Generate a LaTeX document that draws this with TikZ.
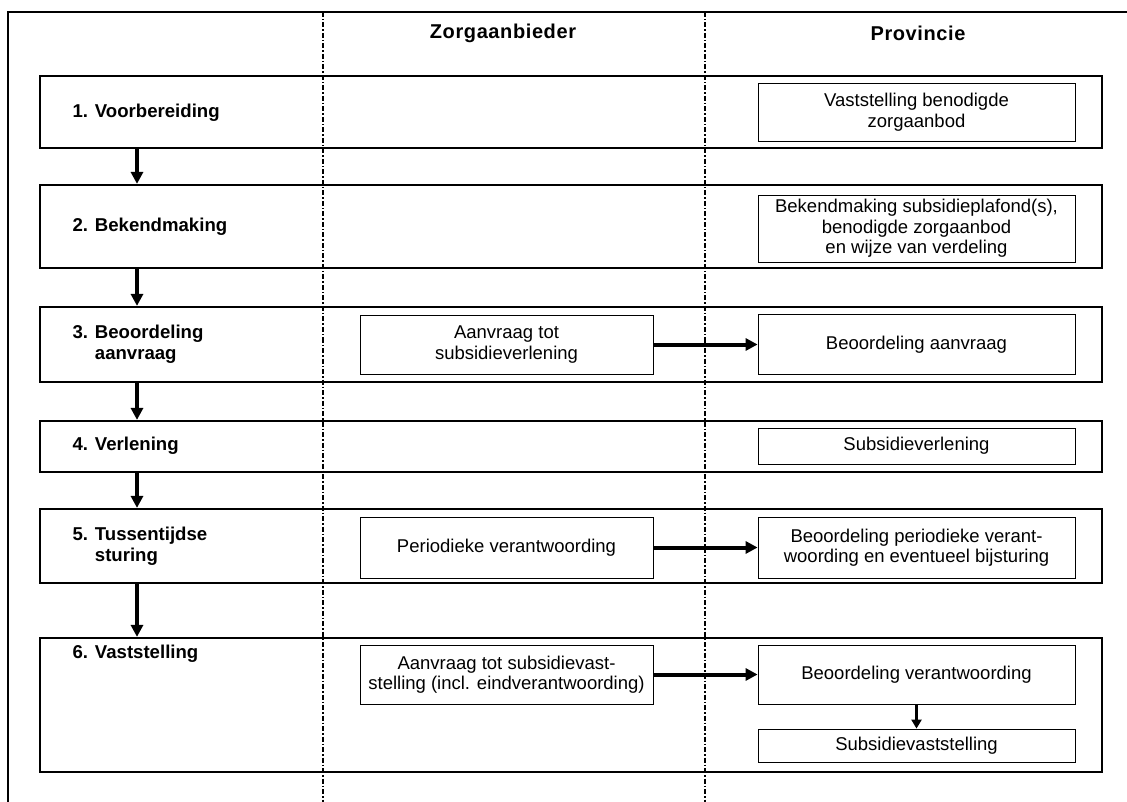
\documentclass[tikz,border=0pt]{standalone}
\usepackage{fontspec}
\setmainfont{Liberation Sans}
\usetikzlibrary{arrows.meta}

\begin{document}
\begin{tikzpicture}[x=1pt,y=-1pt,
    fase/.style={draw,line width=2.2pt,minimum width=1062pt,inner sep=0pt},
    lbl/.style={anchor=west,align=left,font=\fontsize{18.6}{21}\selectfont\bfseries},
    kop/.style={font=\fontsize{20}{22}\selectfont\bfseries\addfontfeatures{LetterSpace=3}},
    zbox/.style={draw,line width=0.8pt,minimum width=293pt,align=center,inner sep=0pt,font=\fontsize{18.5}{20.5}\selectfont},
    pbox/.style={zbox,minimum width=317pt},
    pijl/.style={line width=4pt,-{Triangle[length=12pt,width=12pt]}},
    lane/.style={line width=1.4pt,dash pattern=on 5pt off 2pt on 1.5pt off 2pt}]
\useasboundingbox (0,0) rectangle (1127,802);
% kader en banen
\draw[line width=2pt] (1127,12) -- (8,12) -- (8,802);
\draw[lane] (323,12) -- (323,802);
\draw[lane] (705,12) -- (705,802);
\node[kop] (hz) at (503,33) {Zorgaanbieder};
\node[kop] (hp) at (918,33) {Provincie};

% fasen
\node[fase,minimum height=72pt] (p1) at (571,112) {};
\node[fase,minimum height=83pt] (p2) at (571,226.5) {};
\node[fase,minimum height=75pt] (p3) at (571,344.5) {};
\node[fase,minimum height=51pt] (p4) at (571,446.5) {};
\node[fase,minimum height=74pt] (p5) at (571,546) {};
\node[fase,minimum height=134pt] (p6) at (571,705) {};
\node[lbl] (l1) at (69,113) {1. Voorbereiding};
\node[lbl] (l2) at (69,227) {2. Bekendmaking};
\node[lbl] (l3) at (69,344) {3. Beoordeling\\\phantom{3. }aanvraag};
\node[lbl] (l4) at (69,446) {4. Verlening};
\node[lbl] (l5) at (69,546) {5. Tussentijdse\\\phantom{5. }sturing};
\node[lbl] (l6) at (69,654) {6. Vaststelling};
\coordinate (ax) at (137,0);
\foreach \a/\b in {p1/p2,p2/p3,p3/p4,p4/p5,p5/p6}
  \draw[pijl] (\a.south -| ax) -- (\b.north -| ax);

% zorgaanbieder
\node[zbox,minimum height=59pt] (z3) at (506.5,344.5) {Aanvraag tot\\subsidieverlening};
\node[zbox,minimum height=61pt] (z5) at (506.5,547.5) {Periodieke verantwoording};
\node[zbox,minimum height=59pt] (z6) at (506.5,674.5) {Aanvraag tot subsidievast-\\stelling (incl. eindverantwoording)};

% provincie
\node[pbox,minimum height=58pt] (v1) at (916.5,112) {Vaststelling benodigde\\zorgaanbod};
\node[pbox,minimum height=67pt] (v2) at (916.5,228.5) {Bekendmaking subsidieplafond(s),\\benodigde zorgaanbod\\en wijze van verdeling};
\node[pbox,minimum height=60pt] (v3) at (916.5,344.5) {Beoordeling aanvraag};
\node[pbox,minimum height=36pt] (v4) at (916.5,446) {Subsidieverlening};
\node[pbox,minimum height=61pt] (v5) at (916.5,547.5) {Beoordeling periodieke verant-\\woording en eventueel bijsturing};
\node[pbox,minimum height=59pt] (v6) at (916.5,674.5) {Beoordeling verantwoording};
\node[pbox,minimum height=33pt] (v7) at (916.5,745.5) {Subsidievaststelling};

\draw[pijl] (z3) -- (v3);
\draw[pijl] (z5) -- (v5);
\draw[pijl] (z6) -- (v6);
\draw[line width=2.4pt,-{Triangle[length=9pt,width=10pt]}] (v6) -- (v7);
\end{tikzpicture}
\end{document}
